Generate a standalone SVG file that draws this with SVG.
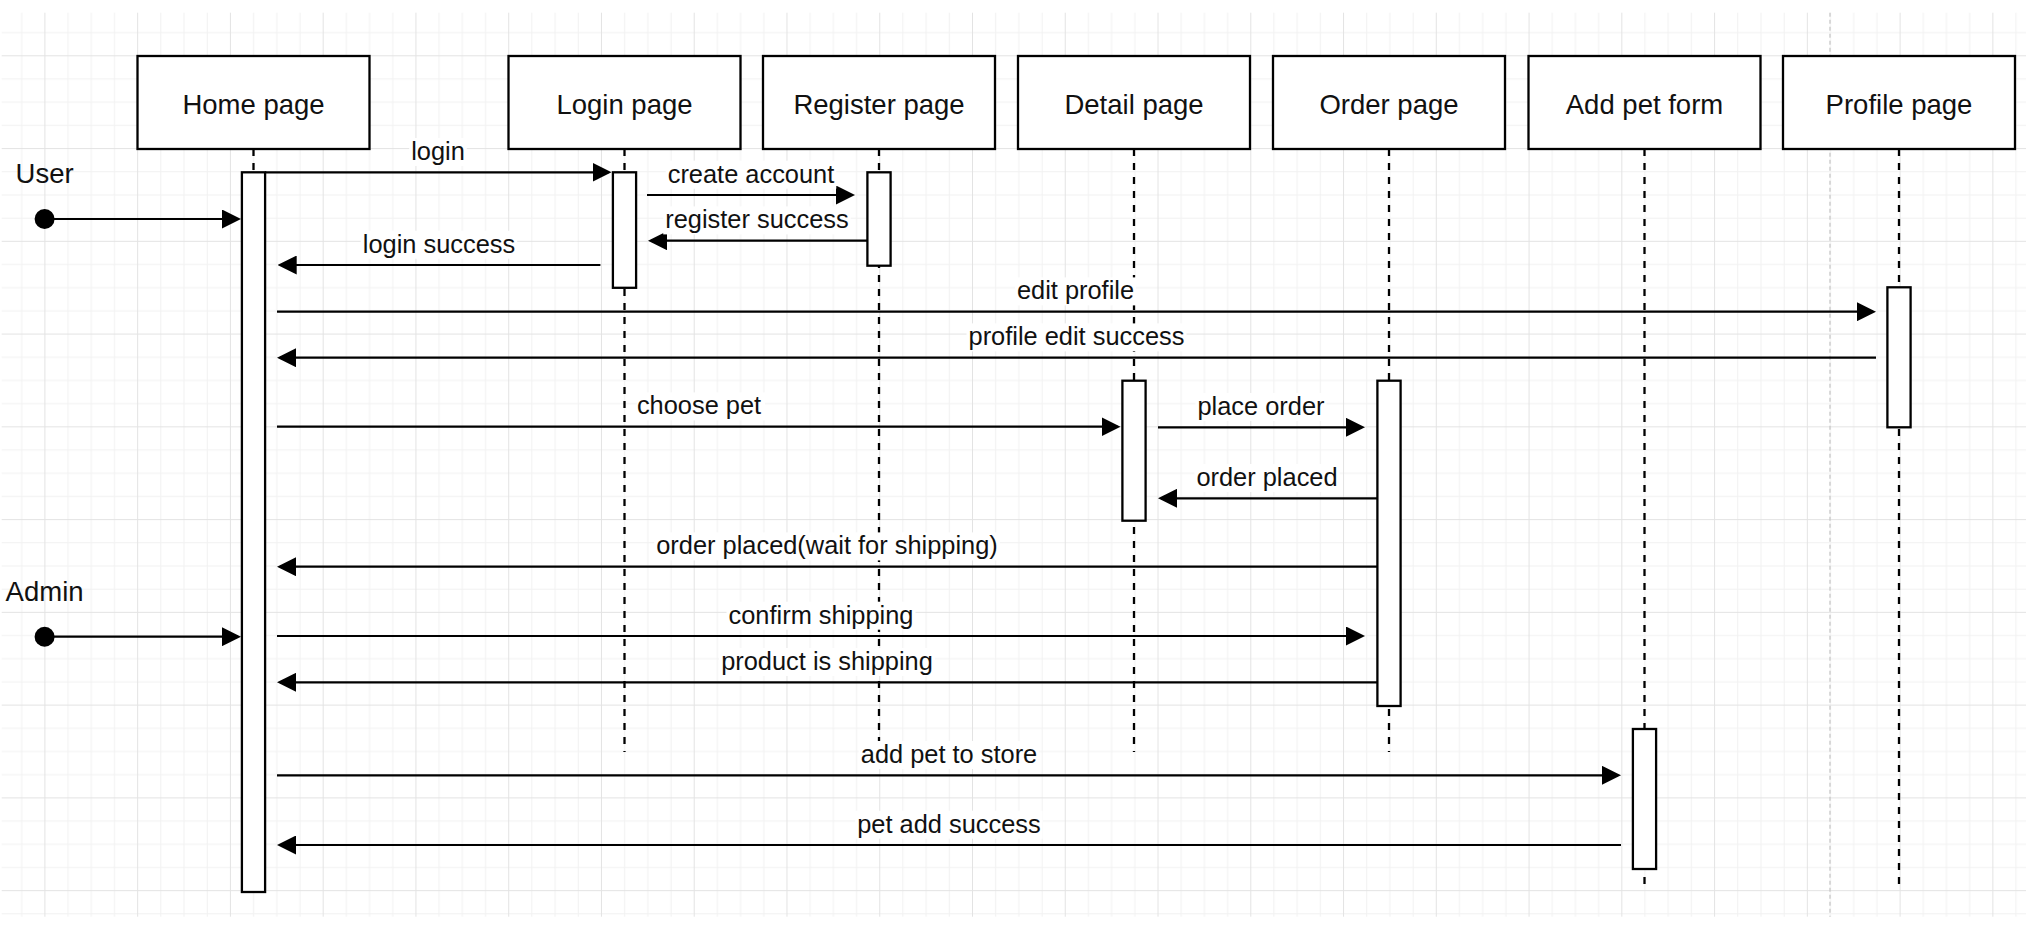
<svg xmlns="http://www.w3.org/2000/svg" width="2034" height="926" viewBox="0 0 2034 926">
<defs>
<style>
.hdr{fill:#fff;stroke:#000;stroke-width:2.3}
.life{fill:none;stroke:#000;stroke-width:2.3;stroke-dasharray:7 7}
.act{fill:#fff;stroke:#000;stroke-width:2.3}
.msg{fill:none;stroke:#000;stroke-width:2.2;marker-end:url(#arr)}
.txt{font-family:"Liberation Sans",Arial,sans-serif;fill:#111}
.name{font-size:27.5px;text-anchor:middle}
.lbl{font-size:25.4px;text-anchor:middle}
.bg{fill:#fff}
.minor{fill:#f1f1f1}
.major{fill:#e3e3e3}
</style>
<pattern id="grid" patternUnits="userSpaceOnUse" x="44.4" y="55.3" width="92.76" height="92.76">
<rect class="minor" x="23.19" y="0" width="1" height="92.76"/>
<rect class="minor" x="46.38" y="0" width="1" height="92.76"/>
<rect class="minor" x="69.57" y="0" width="1" height="92.76"/>
<rect class="minor" x="0" y="23.19" width="92.76" height="1"/>
<rect class="minor" x="0" y="46.38" width="92.76" height="1"/>
<rect class="minor" x="0" y="69.57" width="92.76" height="1"/>
<rect class="major" x="0" y="0" width="1" height="92.76"/>
<rect class="major" x="0" y="0" width="92.76" height="1"/>
</pattern>
<marker id="arr" markerUnits="userSpaceOnUse" markerWidth="19" markerHeight="19" viewBox="0 0 19 19" refX="16" refY="9.5" orient="auto">
<path d="M0,0 L19,9.5 L0,19 z" fill="#000"/>
</marker>
</defs>
<rect x="0" y="0" width="2034" height="926" fill="#fff"/>
<rect x="1.7" y="12.7" width="2024.3" height="904" fill="url(#grid)"/>
<line x1="1830" y1="12.7" x2="1830" y2="916.7" stroke="#c4c4c4" stroke-width="1.2" stroke-dasharray="4 3"/>

<g id="actor-user">
<circle cx="44.6" cy="219" r="10" fill="#000"/>
<text class="txt name" x="44.6" y="183">User</text>
</g>
<g id="actor-admin">
<circle cx="44.6" cy="636.7" r="10" fill="#000"/>
<text class="txt name" x="44.6" y="601.3">Admin</text>
</g>

<g id="home-page">
<line class="life" x1="253.5" y1="149" x2="253.5" y2="892"/>
<rect class="hdr" x="137.5" y="56" width="232" height="93"/>
<text class="txt name" x="253.5" y="113.8">Home page</text>
<rect class="act" x="241.9" y="172.3" width="23.2" height="719.7"/>
</g>
<g id="login-page">
<line class="life" x1="624.5" y1="149" x2="624.5" y2="752"/>
<rect class="hdr" x="508.5" y="56" width="232" height="93"/>
<text class="txt name" x="624.5" y="113.8">Login page</text>
<rect class="act" x="612.9" y="172.3" width="23.2" height="115.5"/>
</g>
<g id="register-page">
<line class="life" x1="879" y1="149" x2="879" y2="752"/>
<rect class="hdr" x="763" y="56" width="232" height="93"/>
<text class="txt name" x="879" y="113.8">Register page</text>
<rect class="act" x="867.4" y="172.3" width="23.2" height="93.4"/>
</g>
<g id="detail-page">
<line class="life" x1="1134" y1="149" x2="1134" y2="752"/>
<rect class="hdr" x="1018" y="56" width="232" height="93"/>
<text class="txt name" x="1134" y="113.8">Detail page</text>
<rect class="act" x="1122.4" y="380.7" width="23.2" height="140"/>
</g>
<g id="order-page">
<line class="life" x1="1389" y1="149" x2="1389" y2="752"/>
<rect class="hdr" x="1273" y="56" width="232" height="93"/>
<text class="txt name" x="1389" y="113.8">Order page</text>
<rect class="act" x="1377.4" y="380.7" width="23.2" height="325.3"/>
</g>
<g id="add-pet-form">
<line class="life" x1="1644.5" y1="149" x2="1644.5" y2="891"/>
<rect class="hdr" x="1528.5" y="56" width="232" height="93"/>
<text class="txt name" x="1644.5" y="113.8">Add pet form</text>
<rect class="act" x="1632.9" y="729" width="23.2" height="140"/>
</g>
<g id="profile-page">
<line class="life" x1="1899" y1="149" x2="1899" y2="891"/>
<rect class="hdr" x="1783" y="56" width="232" height="93"/>
<text class="txt name" x="1899" y="113.8">Profile page</text>
<rect class="act" x="1887.4" y="287.3" width="23.2" height="140"/>
</g>

<g id="connectors">
<line class="msg" x1="54" y1="219" x2="238" y2="219"/>
<line class="msg" x1="54" y1="636.7" x2="238" y2="636.7"/>

<line class="msg" x1="265.1" y1="172.3" x2="608.5" y2="172.3"/>
<rect class="bg" x="409.2" y="138" width="57.6" height="28"/>
<text class="txt lbl" x="438" y="160">login</text>

<line class="msg" x1="647" y1="195" x2="852" y2="195"/>
<rect class="bg" x="665.7" y="160.7" width="170.6" height="28"/>
<text class="txt lbl" x="751" y="182.7">create account</text>

<line class="msg" x1="867.4" y1="240.7" x2="651" y2="240.7"/>
<rect class="bg" x="663.2" y="206.4" width="187.5" height="28"/>
<text class="txt lbl" x="757" y="228.4">register success</text>

<line class="msg" x1="600.4" y1="265" x2="280.7" y2="265"/>
<rect class="bg" x="360.7" y="230.7" width="156.5" height="28"/>
<text class="txt lbl" x="439" y="252.7">login success</text>

<line class="msg" x1="277" y1="311.7" x2="1873" y2="311.7"/>
<rect class="bg" x="1014.9" y="277.4" width="121.2" height="28"/>
<text class="txt lbl" x="1075.5" y="299.4">edit profile</text>

<line class="msg" x1="1876" y1="357.7" x2="280" y2="357.7"/>
<rect class="bg" x="966.5" y="323.4" width="220" height="28"/>
<text class="txt lbl" x="1076.5" y="345.4">profile edit success</text>

<line class="msg" x1="277" y1="426.7" x2="1117.5" y2="426.7"/>
<rect class="bg" x="636.8" y="392.4" width="128.3" height="28"/>
<text class="txt lbl" x="699" y="414.4">choose pet</text>

<line class="msg" x1="1158" y1="427.3" x2="1362" y2="427.3"/>
<rect class="bg" x="1195.5" y="393" width="131" height="28"/>
<text class="txt lbl" x="1261" y="415">place order</text>

<line class="msg" x1="1377.4" y1="498.3" x2="1161" y2="498.3"/>
<rect class="bg" x="1194.4" y="464" width="145.2" height="28"/>
<text class="txt lbl" x="1267" y="486">order placed</text>

<line class="msg" x1="1377.4" y1="566.7" x2="280" y2="566.7"/>
<rect class="bg" x="654.2" y="532.4" width="345.6" height="28"/>
<text class="txt lbl" x="827" y="554.4">order placed(wait for shipping)</text>

<line class="msg" x1="277" y1="636" x2="1362" y2="636"/>
<rect class="bg" x="726.5" y="601.7" width="189" height="28"/>
<text class="txt lbl" x="821" y="623.7">confirm shipping</text>

<line class="msg" x1="1377.4" y1="682.3" x2="280" y2="682.3"/>
<rect class="bg" x="719.1" y="648" width="215.8" height="28"/>
<text class="txt lbl" x="827" y="670">product is shipping</text>

<line class="msg" x1="277" y1="775.3" x2="1618" y2="775.3"/>
<rect class="bg" x="858.7" y="741" width="180.5" height="28"/>
<text class="txt lbl" x="949" y="763">add pet to store</text>

<line class="msg" x1="1621" y1="845" x2="280" y2="845"/>
<rect class="bg" x="855.2" y="810.7" width="187.5" height="28"/>
<text class="txt lbl" x="949" y="832.7">pet add success</text>
</g>
</svg>
